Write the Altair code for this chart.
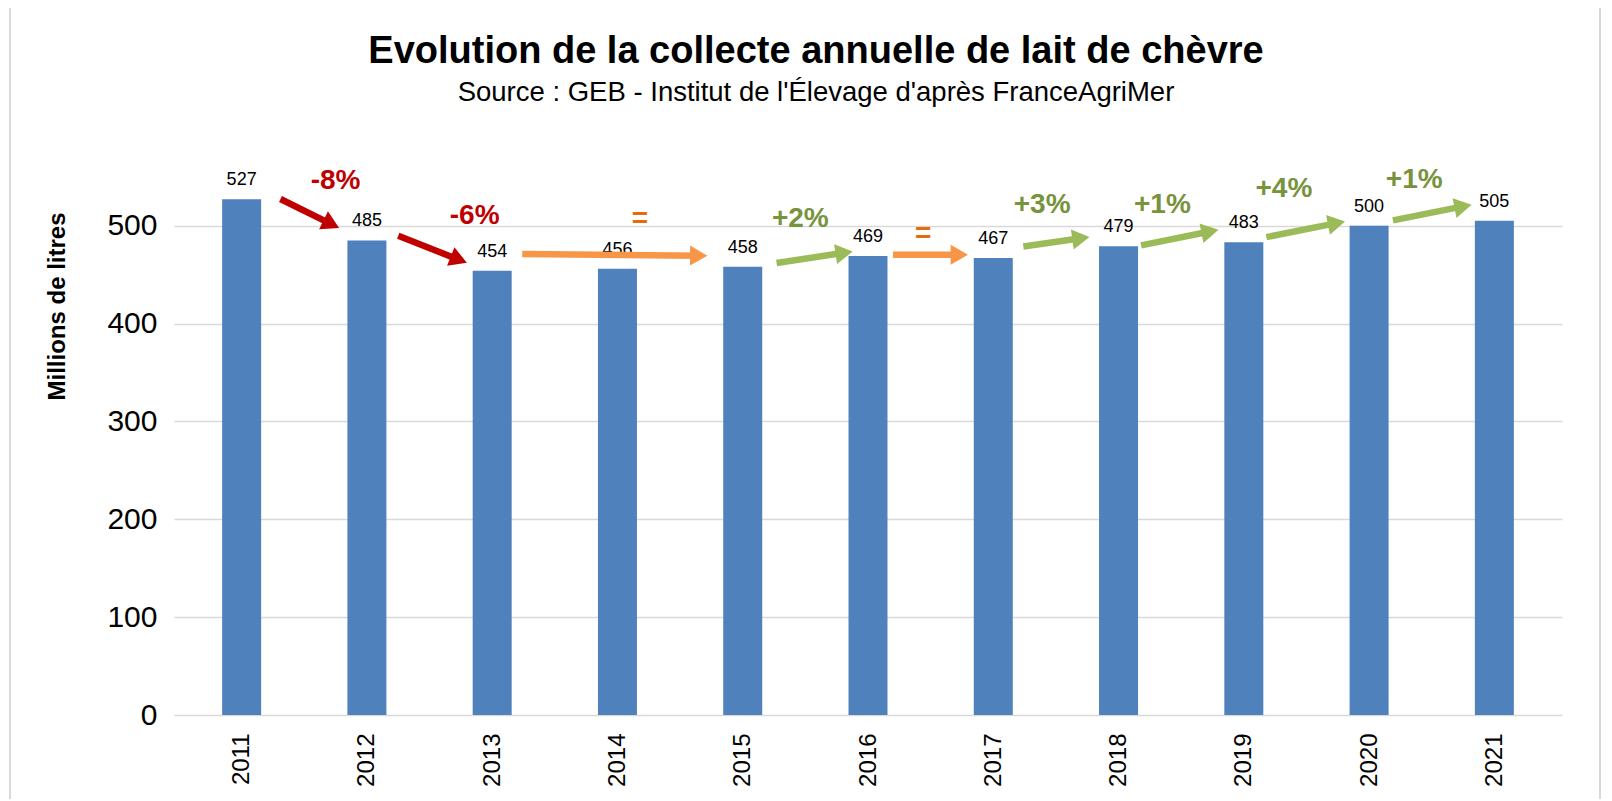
import math
import altair as alt
import pandas as pd

# ---- data ----
years = [2011, 2012, 2013, 2014, 2015, 2016, 2017, 2018, 2019, 2020, 2021]
values = [527, 485, 454, 456, 458, 469, 467, 479, 483, 500, 505]

change_labels = ["-8%", "-6%", "=", "+2%", "=", "+3%", "+1%", "+4%", "+1%"]
change_kind = ["down", "down", "flat", "up", "flat", "up", "up", "up", "up"]
arrow_x0 = [2011.31, 2012.25, 2013.24, 2015.27, 2016.20, 2017.24, 2018.18, 2019.18, 2020.19]
arrow_y0 = [527.3, 489.8, 471.1, 461.9, 470.3, 478.8, 479.9, 488.4, 505.4]
arrow_x1 = [2011.78, 2012.80, 2014.72, 2015.88, 2016.80, 2017.77, 2018.80, 2019.81, 2020.82]
arrow_y1 = [497.6, 461.9, 469.3, 473.7, 470.3, 488.4, 495.9, 504.4, 521.5]
label_x = [2011.75, 2012.86, 2014.18, 2015.46, 2016.44, 2017.39, 2018.35, 2019.32, 2020.36]
label_y = [545.3, 509.5, 507.2, 507.2, 491.8, 521.5, 521.5, 537.5, 546.3]

arrow_colors = {"down": "#C00000", "flat": "#F79646", "up": "#9BBB59"}
text_colors = {"down": "#C00000", "flat": "#E46C0A", "up": "#77933C"}

# ---- geometry of the plot area ----
W, H = 1388, 548
XMIN, XMAX = 2010.5, 2021.5
YMAX = 560
px_x = W / (XMAX - XMIN)
px_y = H / YMAX

FONT = "Liberation Sans, Arial, sans-serif"

bars = pd.DataFrame({"year": years, "value": values})

rows = []
HEAD = 18
for i in range(len(change_labels)):
    dx = (arrow_x1[i] - arrow_x0[i]) * px_x
    dys = -(arrow_y1[i] - arrow_y0[i]) * px_y
    ln = math.hypot(dx, dys)
    ux, uy = dx / ln, dys / ln
    hx = arrow_x1[i] - ux * HEAD * 0.5 / px_x
    hy = arrow_y1[i] + uy * HEAD * 0.5 / px_y
    ang = math.degrees(math.atan2(dys, dx)) % 360
    rows.append({
        "x0": arrow_x0[i], "y0": arrow_y0[i],
        "hx": hx, "hy": hy, "angle": ang,
        "lx": label_x[i], "ly": label_y[i],
        "label": change_labels[i],
        "acolor": arrow_colors[change_kind[i]],
        "tcolor": text_colors[change_kind[i]],
    })
arrows = pd.DataFrame(rows)

xscale = alt.Scale(domain=[XMIN, XMAX], nice=False, zero=False)
yscale = alt.Scale(domain=[0, YMAX], nice=False)

base_bars = alt.Chart(bars)

# light grey frame of the chart area (decoration)
frame = alt.Chart(pd.DataFrame({"k": [0]})).mark_rect(
    fill=None, stroke="#D9D9D9", strokeWidth=2, cornerRadius=2
).encode(
    x=alt.value(-164), x2=alt.value(W + 38),
    y=alt.value(-162), y2=alt.value(H + 90),
)

bar_layer = base_bars.mark_bar(size=39, color="#4F81BD").encode(
    x=alt.X("year:Q", scale=xscale,
            axis=alt.Axis(values=years, format="d", labelAngle=270, labelFontSize=24,
                          labelFont=FONT, labelColor="#000000", labelPadding=18,
                          domain=False, ticks=False, grid=False, title=None)),
    y=alt.Y("value:Q", scale=yscale,
            axis=alt.Axis(values=[0, 100, 200, 300, 400, 500], labelFontSize=30,
                          labelFont=FONT, labelColor="#000000", labelPadding=17,
                          domain=False, ticks=False, grid=True, gridColor="#D9D9D9",
                          gridWidth=1.5,
                          title="Millions de litres", titleFont=FONT, titleFontSize=24,
                          titleFontWeight="bold", titleColor="#000000",
                          titleAngle=270, titleX=-117, titleY=139,
                          titleAlign="center", titleBaseline="middle")),
)

value_labels = base_bars.mark_text(fontSize=18, font=FONT, color="#000000",
                                   baseline="middle", dy=-19).encode(
    x=alt.X("year:Q", scale=xscale),
    y=alt.Y("value:Q", scale=yscale),
    text=alt.Text("value:Q", format="d"),
)

base_arr = alt.Chart(arrows)

shafts = base_arr.mark_rule(strokeWidth=6.5, strokeCap="butt").encode(
    x=alt.X("x0:Q", scale=xscale),
    y=alt.Y("y0:Q", scale=yscale),
    x2="hx:Q",
    y2="hy:Q",
    color=alt.Color("acolor:N", scale=None),
)

heads = base_arr.mark_point(shape="triangle-right", filled=True, opacity=1,
                            size=400, strokeWidth=0).encode(
    x=alt.X("hx:Q", scale=xscale),
    y=alt.Y("hy:Q", scale=yscale),
    angle=alt.Angle("angle:Q", scale=None),
    color=alt.Color("acolor:N", scale=None),
)

pct = base_arr.mark_text(fontSize=28, fontWeight="bold", font=FONT,
                         baseline="middle", align="center").encode(
    x=alt.X("lx:Q", scale=xscale),
    y=alt.Y("ly:Q", scale=yscale),
    text="label:N",
    color=alt.Color("tcolor:N", scale=None),
)

chart = alt.layer(frame, bar_layer, value_labels, shafts, heads, pct).properties(
    width=W, height=H,
    title=alt.TitleParams(
        text="Evolution de la collecte annuelle de lait de chèvre",
        subtitle="Source : GEB - Institut de l'Élevage d'après FranceAgriMer",
        font=FONT, fontSize=38, fontWeight="bold", color="#000000",
        subtitleFont=FONT, subtitleFontSize=27.5, subtitleColor="#000000",
        subtitlePadding=8, anchor="middle", dx=-52, offset=-102,
    ),
    autosize=alt.AutoSizeParams(type="none"),
    padding={"left": 166, "top": 159, "right": 40, "bottom": 84},
).configure(background="white").configure_view(strokeWidth=0, stroke="transparent")

chart.save("out.html", embed_options={"renderer": "svg", "actions": False})
